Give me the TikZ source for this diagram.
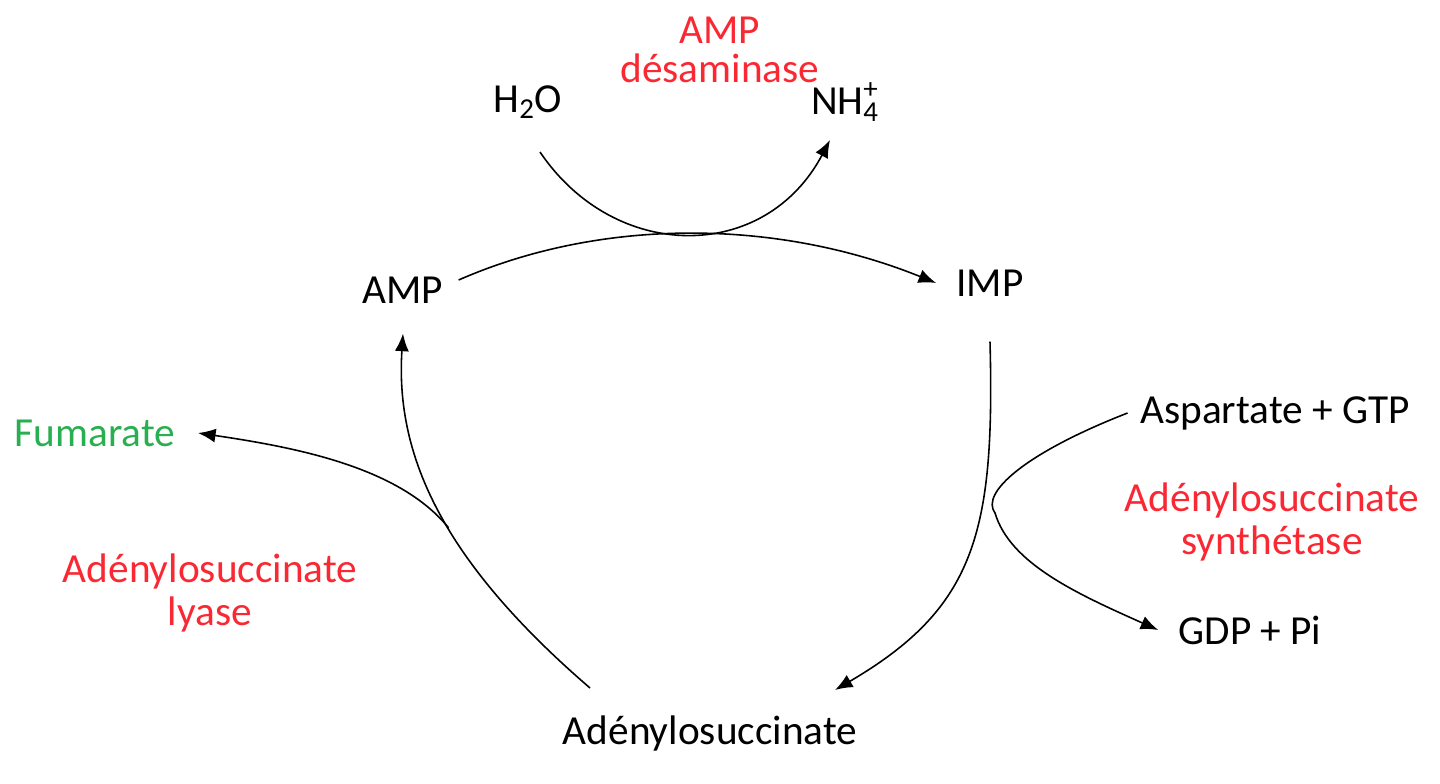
\documentclass[tikz,border=0pt]{standalone}
\usepackage{fontspec}
\setmainfont{Carlito}
\usetikzlibrary{arrows.meta}
\definecolor{enzred}{RGB}{250,40,50}
\definecolor{fumgreen}{RGB}{40,175,80}
\tikzset{every picture/.style={remember picture}}
\begin{document}
\begin{tikzpicture}[
  lbl/.style={font=\fontsize{23.5}{26}\selectfont, align=center, inner sep=0pt},
  enz/.style={lbl, text=enzred},
  rxn/.style={line width=0.9pt, -{Latex[length=10pt,width=8pt]}}]
\useasboundingbox (0,0) rectangle (28.8,15.66);
%\draw[help lines] (0,0) grid (28,15);
\node[enz] (desam) at (14.4,14.66) {AMP\\[-4pt]désaminase};
\node[lbl] (water) at (10.56,13.62) {H\textsubscript{2}O};
\node[lbl] (ammon) at (16.9,13.62) {NH\rlap{\textsuperscript{+}}\textsubscript{4}};
\node[lbl] (amp) at (8.06,9.86) {AMP};
\node[lbl] (imp) at (19.8,10.0) {IMP};
\node[lbl, text=fumgreen] (fum) at (1.9,7.0) {Fumarate};
\node[lbl] (asp) at (25.5,7.4) {Aspartate + GTP};
\node[enz] (synth) at (25.44,5.22) {Adénylosuccinate\\[-2pt]synthétase};
\node[lbl] (gdp) at (25.0,3.06) {GDP + Pi};
\node[enz] (lyase) at (4.2,3.8) {Adénylosuccinate\\[-2pt]lyase};
\node[lbl] (adsucc) at (14.2,1.0) {Adénylosuccinate};

%connector ends
\coordinate (h2oend) at (10.8,12.62);
\coordinate (nh4end) at (16.6,12.86);

\draw[rxn] (amp.east)++(0.3,0.2) .. controls (12,11.3) and (15.5,11.3) .. ([xshift=-0.4cm]imp.west);%deamination
\draw[rxn] (h2oend) .. controls (12.3,10.4) and (15.3,10.4) .. (nh4end);
\draw[rxn] ([yshift=-0.9cm]imp.south) .. controls (19.9,5) and (19.5,3.5) .. (16.7,1.86);%to adenylosuccinate
\draw[rxn] ([xshift=-0.25cm]asp.west) .. controls (20.5,6.6) and (19.6,5.8) .. (19.9,5.4)
  .. controls (20.2,4.4) and (21.5,3.8) .. ([xshift=-0.4cm]gdp.west);
\draw[rxn] (11.8,1.9) .. controls (8.9,4.4) and (7.9,6.5) .. coordinate[pos=0.45] (branch) ([yshift=-0.6cm]amp.south);%to AMP
\draw[rxn] (branch) .. controls (8,6.3) and (6,6.7) .. ([xshift=0.45cm]fum.east);
\end{tikzpicture}
\end{document}
